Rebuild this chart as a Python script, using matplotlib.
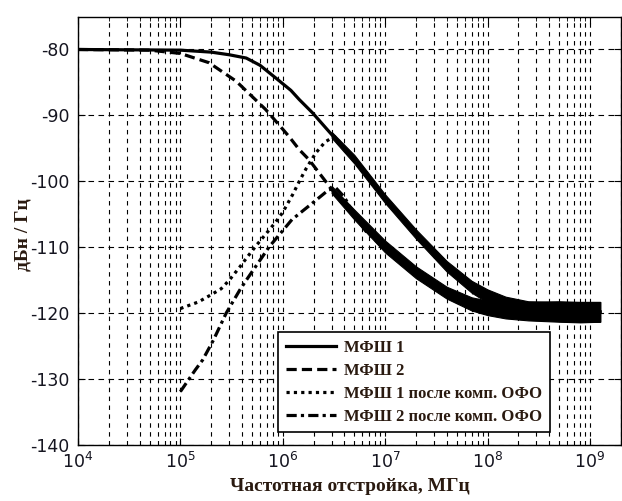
import numpy as np
import matplotlib
matplotlib.use("Agg")
import matplotlib.pyplot as plt
from matplotlib.ticker import LogLocator, FixedLocator, NullFormatter

plt.rcParams['font.family'] = ['Liberation Sans Narrow', 'DejaVu Sans']
plt.rcParams['mathtext.fontset'] = 'custom'
plt.rcParams['mathtext.rm'] = 'Liberation Sans Narrow'
plt.rcParams['mathtext.it'] = 'Liberation Sans Narrow'
plt.rcParams['axes.unicode_minus'] = False

# MFSh 1 (solid)
f_pn1 = [1e4, 1e5, 2e5, 3e5, 4.4e5, 6e5, 8.5e5, 1.2e6, 1.45e6, 1.95e6, 3e6, 5e6,
         6.5e6, 1e7, 1.35e7, 2e7, 2.9e7, 4e7, 6e7, 8.5e7, 1.26e8, 1.8e8, 2.7e8,
         4e8, 6e8, 1.26e9]
pn1 = [-80.0, -80.1, -80.4, -80.8, -81.3, -82.4, -84.3, -86.2, -87.6, -89.6, -92.9, -96.6,
       -98.7, -102.6, -104.8, -107.9, -110.6, -112.8, -115.0, -116.6, -117.8, -118.6, -119.2,
       -119.5, -119.7, -119.8]

# MFSh 2 (dashed)
f_pn2 = [1e4, 5e4, 1e5, 1.9e5, 3.5e5, 6.8e5, 1e6, 1.15e6, 1.45e6, 1.8e6, 3e6, 4.5e6,
         6.5e6, 1e7, 1.35e7, 2e7, 2.9e7, 4e7, 6e7, 1.26e8, 2.5e8, 5e8, 1.26e9]
pn2 = [-80.0, -80.1, -80.6, -82.0, -84.8, -89.1, -92.1, -93.2, -95.2, -96.7, -101.2, -104.4,
       -107.2, -109.8, -111.7, -113.6, -115.2, -116.6, -118.0, -119.2, -119.7, -119.8, -119.8]

# MFSh 1 after OFO compensation (dotted)
f_pn1c = [1e5, 1.5e5, 2e5, 2.5e5, 3e5, 3.8e5, 4.6e5, 5.6e5, 7e5, 8.5e5, 1e6, 1.25e6,
          1.45e6, 1.7e6, 2.1e6, 2.6e6, 3.2e6, 4e6, 5e6, 6.5e6, 1e7, 1.35e7, 2e7, 2.9e7,
          4e7, 6e7, 8.5e7, 1.26e8, 1.8e8, 2.7e8, 4e8, 6e8, 1.26e9]
pn1c = [-119.3, -118.3, -117.2, -116.3, -115.0, -113.0, -111.3, -109.6, -107.8, -106.2, -104.7, -102.0,
        -100.0, -98.0, -95.7, -94.0, -93.2, -94.9, -96.9, -99.0, -102.9, -105.0, -108.1, -110.8,
        -113.0, -115.3, -116.9, -118.1, -119.0, -119.6, -120.1, -120.4, -120.5]

# MFSh 2 after OFO compensation (dash-dot)
f_pn2c = [1e5, 1.4e5, 1.65e5, 2.1e5, 2.8e5, 3.8e5, 4.4e5, 7.4e5, 1.23e6, 1.95e6, 2.8e6,
          3.3e6, 4e6, 5e6, 6.5e6, 1e7, 1.35e7, 2e7, 2.9e7, 4e7, 6e7, 1.26e8, 2.5e8,
          5e8, 1.26e9]
pn2c = [-131.9, -128.6, -127.1, -124.1, -120.0, -116.5, -115.0, -109.9, -105.8, -103.3, -101.3,
        -101.0, -102.4, -105.1, -107.6, -110.2, -112.0, -113.9, -115.5, -116.9, -118.3, -119.5, -120.0,
        -120.2, -120.3]

# noise envelopes of the overlapping curves
f_band = [3e6, 5e6, 1e7, 2e7, 4e7, 7e7, 1e8, 1.5e8, 2.5e8, 5e8, 8e8, 1.26e9]
band1_hi = [-92.5, -96.0, -102.0, -107.3, -112.1, -115.1, -116.4, -117.5, -118.2, -118.3, -118.3, -118.3]
band1_lo = [-93.4, -97.3, -103.3, -108.7, -113.7, -116.9, -118.4, -119.8, -120.8, -121.2, -121.3, -121.3]
band2_hi = [-100.7, -104.3, -109.0, -112.9, -116.0, -117.6, -118.1, -118.3, -118.3, -118.2, -118.3, -118.3]
band2_lo = [-101.8, -105.8, -110.8, -114.7, -117.8, -119.6, -120.3, -120.8, -121.1, -121.3, -121.4, -121.3]

legend_labels = ['МФШ 1', 'МФШ 2', 'МФШ 1 после комп. ОФО', 'МФШ 2 после комп. ОФО']
txt_color = '#2a1a10'
serif = ['Liberation Serif', 'DejaVu Serif']

fig = plt.figure(figsize=(6.22, 5.01), dpi=100)
ax = fig.add_axes([0.1254, 0.1118, 0.8726, 0.8552])

ax.fill_between(f_band, band1_lo, band1_hi, color='black', lw=0.8)
ax.fill_between(f_band, band2_lo, band2_hi, color='black', lw=0.8)

lw = 2.3
ax.plot(f_pn1, pn1, color='black', lw=lw, linestyle='-', label=legend_labels[0])
ax.plot(f_pn2, pn2, color='black', lw=lw, linestyle=(0, (3.2, 1.6)), label=legend_labels[1])
ax.plot(f_pn1c, pn1c, color='black', lw=lw, linestyle=(0, (1.0, 1.3)), label=legend_labels[2])
ax.plot(f_pn2c, pn2c, color='black', lw=lw, linestyle=(0, (3.2, 1.3, 1.0, 1.3)), label=legend_labels[3])

ax.set_xscale('log')
ax.set_xlim(1e4, 2e9)
ax.set_ylim(-140, -75)
ax.yaxis.set_major_locator(FixedLocator([-140, -130, -120, -110, -100, -90, -80]))
ax.xaxis.set_major_locator(LogLocator(base=10, numticks=12))
ax.xaxis.set_minor_locator(LogLocator(base=10, subs=np.arange(2, 10), numticks=12))
ax.xaxis.set_minor_formatter(NullFormatter())

ax.grid(True, which='major', axis='y', color='black', linestyle=(0, (5, 4)), lw=0.8)
ax.grid(True, which='both', axis='x', color='black', linestyle=(0, (4, 4)), lw=0.8)
ax.tick_params(which='both', direction='in', top=True, right=True, colors='black',
               labelcolor='#151520', labelsize=12.5)
ax.tick_params(which='major', length=5)
ax.tick_params(which='minor', length=3)
ax.tick_params(axis='x', pad=5)
ax.tick_params(axis='y', pad=6)
for s in ax.spines.values():
    s.set_linewidth(1.0)

ax.set_xlabel('Частотная отстройка, МГц', family=serif, fontweight='bold',
              fontsize=14, color=txt_color)
ax.xaxis.set_label_coords(0.5, -0.076)
ax.set_ylabel('дБн / Гц', family=serif, fontweight='bold', fontsize=14,
              color=txt_color)
ax.yaxis.set_label_coords(-0.085, 0.49)

leg = ax.legend(loc='lower left', bbox_to_anchor=(0.354, 0.010), fancybox=False,
                framealpha=1, edgecolor='black', handlelength=3.0, borderpad=0.45,
                labelspacing=0.42, handletextpad=0.5,
                prop={'family': serif, 'weight': 'bold', 'size': 12})
leg.get_frame().set_linewidth(1.2)
for t in leg.get_texts():
    t.set_color(txt_color)

fig.savefig('out.png', dpi=100)
